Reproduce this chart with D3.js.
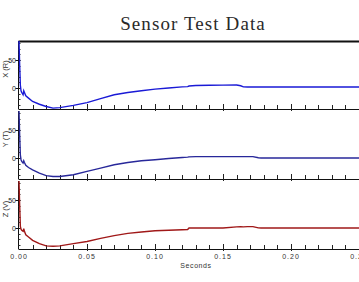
<!DOCTYPE html>
<html><head><meta charset="utf-8">
<script src="https://cdn.jsdelivr.net/npm/d3@7"></script>
<style>body{margin:0;background:#fff;}svg{display:block;}</style>
</head><body>
<script>
const title = "Sensor Test Data";
const xLabel = "Seconds";
const seriesNames = ["X (R)", "Y (T)", "Z (V)"];
const seriesColors = ["#1a1ad6", "#28289a", "#a01818"];
const times = [0, 0.0005, 0.001, 0.0015, 0.002, 0.003, 0.0035, 0.004, 0.005, 0.007, 0.01, 0.015, 0.02, 0.025, 0.03, 0.04, 0.05, 0.06, 0.07, 0.08, 0.09, 0.10, 0.11, 0.12, 0.124, 0.125, 0.13, 0.14, 0.15, 0.16, 0.163, 0.165, 0.168, 0.172, 0.176, 0.178, 0.19, 0.21, 0.23, 0.26];
const xValues = [84, 40, 5, -5, -8, -12, -5, -8, -14, -18, -24, -29, -33, -36, -35, -31, -26, -19, -12, -8, -5, -2, 0, 2, 2.5, 3.5, 4.5, 5, 5.2, 5.4, 4, 2, 1.8, 1.8, 1.8, 1.8, 1.8, 1.8, 1.8, 1.8];
const yValues = [84, 40, 5, -3, -6, -9, -5, -8, -13, -17, -21, -27, -31.5, -33, -33, -30, -24, -18, -12, -8, -5, -3, -1, 1, 1.5, 2, 2.5, 2.5, 2.5, 2.5, 2.5, 2.5, 2.5, 2.5, 0.5, 0, 0, 0, 0, 0];
const zValues = [84, 40, 3, -2, -4, -6, -1, -6, -12, -16, -22, -28, -32, -32.5, -32, -28, -24, -18.5, -13.5, -9.5, -7, -5, -4, -3, -2.8, 0, 0, 0, 0, 2, 2.5, 2, 2.5, 2.5, 0.3, 0, 0, 0, 0, 0];
const seriesValues = [xValues, yValues, zValues];
const xTicks = [0, 0.05, 0.10, 0.15, 0.20, 0.25];
const xTickLabels = ["0.00", "0.05", "0.10", "0.15", "0.20", "0.25"];
const yTicks = [0, 50];
const yTickLabels = ["0", "50"];

const W = 359, H = 282;
const svg = d3.select("body").append("svg").attr("width", W).attr("height", H);

const left = 18.5;
const x = d3.scaleLinear().domain([0, 0.26]).range([19, 19 + 0.26 * 1360]);
const panelTops = [41, 111, 181];
const panelH = 68;

svg.append("text").attr("x", 193).attr("y", 30).attr("text-anchor", "middle")
  .attr("font-family", "Liberation Serif, Times New Roman, serif").attr("font-size", 19)
  .attr("letter-spacing", 1.1).attr("fill", "#2a2a2a").text(title);

// top heavy border
svg.append("line").attr("x1", left).attr("x2", W).attr("y1", 41.5).attr("y2", 41.5)
  .attr("stroke", "#111").attr("stroke-width", 2);

seriesValues.forEach((vals, i) => {
  const top = panelTops[i], bot = top + panelH;
  const y = d3.scaleLinear().domain([-37.5, 84]).range([bot, top]);
  const g = svg.append("g");
  // left axis
  g.append("line").attr("x1", left).attr("x2", left).attr("y1", top).attr("y2", bot)
    .attr("stroke", "#111").attr("stroke-width", 1);
  // y minor ticks
  d3.range(-30, 81, 10).forEach(v => {
    g.append("line").attr("x1", left).attr("x2", left + 2).attr("y1", Math.round(y(v)) + 0.5).attr("y2", Math.round(y(v)) + 0.5)
      .attr("stroke", "#333").attr("stroke-width", 1);
  });
  yTicks.forEach((v, k) => {
    const yy = Math.round(y(v)) + 0.5;
    g.append("line").attr("x1", left - 3).attr("x2", left + 2).attr("y1", yy).attr("y2", yy)
      .attr("stroke", "#111").attr("stroke-width", 1);
    g.append("text").attr("x", left - 2.5).attr("y", yy + 2.5).attr("text-anchor", "end")
      .attr("font-family", "Arial, Liberation Sans, sans-serif").attr("font-size", 7)
      .attr("fill", "#222").text(yTickLabels[k]);
  });
  // y label
  g.append("text").attr("transform", `translate(8,${top + 28}) rotate(-90)`)
    .attr("text-anchor", "middle").attr("font-family", "Arial, Liberation Sans, sans-serif")
    .attr("font-size", 7.5).attr("fill", "#333").text(seriesNames[i]);
  // bottom axis
  g.append("line").attr("x1", left).attr("x2", W).attr("y1", bot + 0.5).attr("y2", bot + 0.5)
    .attr("stroke", "#111").attr("stroke-width", 1.2);
  d3.range(1, 26).forEach(k => {
    const t = k / 100;
    const xx = Math.round(x(t)) + 0.5;
    const major = k % 5 === 0;
    g.append("line").attr("x1", xx).attr("x2", xx).attr("y1", bot - (major ? 5 : 4)).attr("y2", bot + (major ? 2 : 0))
      .attr("stroke", "#222").attr("stroke-width", 1);
  });
  // series line
  const line = d3.line().x((d, j) => x(times[j])).y(d => y(d));
  g.append("path").datum(vals).attr("d", line).attr("fill", "none")
    .attr("stroke", seriesColors[i]).attr("stroke-width", 1.4);
  if (i === 2) {
    xTicks.forEach((t, k) => {
      g.append("text").attr("x", x(t)).attr("y", bot + 10).attr("text-anchor", "middle")
        .attr("font-family", "Arial, Liberation Sans, sans-serif").attr("font-size", 7)
        .attr("letter-spacing", 1).attr("fill", "#333").text(xTickLabels[k]);
    });
    g.append("text").attr("x", 196).attr("y", bot + 19).attr("text-anchor", "middle")
      .attr("font-family", "Arial, Liberation Sans, sans-serif").attr("font-size", 7)
      .attr("letter-spacing", 0.6).attr("fill", "#333").text(xLabel);
  }
});
</script>
</body></html>
